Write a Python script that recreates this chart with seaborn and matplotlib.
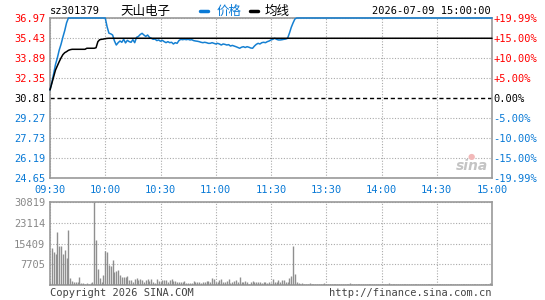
import matplotlib
matplotlib.use("Agg")
import matplotlib.pyplot as plt
import seaborn as sns
import numpy as np
from matplotlib.lines import Line2D

W, H = 545, 300
BLUE = '#0a7ad6'
LINE_BLUE = '#1580d2'
RED = '#ff0000'
GRAY = '#999999'

prev_close = 30.81
price_ticks = [24.65, 26.19, 27.73, 29.27, 30.81, 32.35, 33.89, 35.43, 36.97]
pct_labels = ['-19.99%', '-15.00%', '-10.00%', '-5.00%', '0.00%',
              '+5.00%', '+10.00%', '+15.00%', '+19.99%']
time_labels = ['09:30', '10:00', '10:30', '11:00', '11:30', '13:30', '14:00', '14:30', '15:00']
vol_ticks = [7705, 15409, 23114, 30819]

# minute-by-minute price (09:30 .. 15:00, 241 points)
price_open = [31.43, 32.00, 32.70, 33.40, 33.90, 34.50, 34.95, 35.50, 36.00, 36.60, 36.97]
price_limit_am = [36.97] * 20
price_mid = [36.30, 35.80, 35.75, 35.66, 35.20, 34.89, 35.07, 35.20, 35.10, 35.33,
             35.05, 35.25, 35.15, 35.10, 35.30, 35.07, 35.48, 35.55, 35.70, 35.79,
             35.66, 35.55, 35.66, 35.48, 35.41, 35.33, 35.35, 35.23, 35.28, 35.18,
             35.25, 35.15, 35.07, 35.15, 35.07, 35.10, 34.97, 35.07, 35.02, 35.23,
             35.33, 35.30, 35.33, 35.30, 35.33, 35.28, 35.30, 35.23, 35.20, 35.18,
             35.15, 35.10, 35.07, 35.10, 35.07, 35.02, 35.02, 35.07, 35.02, 34.97,
             35.02, 34.97, 34.89, 34.97, 34.94, 34.89, 34.92, 34.81, 34.86, 34.81,
             34.76, 34.70, 34.64, 34.72, 34.76, 34.70, 34.76, 34.72, 34.66, 34.64,
             34.81, 34.94, 35.02, 34.97, 35.07, 35.10, 35.07, 35.15, 35.20, 35.28,
             35.33, 35.41, 35.33, 35.28, 35.28, 35.30, 35.33, 35.35, 35.41, 35.80,
             36.25, 36.60, 36.90]
price_limit_pm = [36.97] * 107

avg_open = [31.43, 31.94, 32.45, 32.97, 33.30, 33.61, 33.90, 34.15, 34.30, 34.38,
            34.48, 34.53, 34.56, 34.56, 34.56, 34.56, 34.56, 34.56, 34.56, 34.56,
            34.64, 34.64, 34.64, 34.64, 34.64, 34.68, 35.15, 35.30, 35.33, 35.35,
            35.38, 35.40]
avg_rest = [35.41] * 209

vol_am1 = [600, 13600, 12400, 11600, 19800, 14600, 14600, 11600, 13100, 9900,
           20500, 2700, 1600, 1000, 1200, 1200, 3100, 740, 740, 500,
           740, 500, 740, 1200, 30819, 16800, 6100, 2700, 1200, 3800,
           12700, 12400, 7500, 6900, 9400, 4900, 5300, 5700, 3800, 3100]
vol_am2 = [2970, 2970, 3200, 1980, 1980, 990, 2230, 2700, 1980, 2230,
           1980, 1240, 1730, 2230, 1480, 2230, 1240, 740, 2230, 1480,
           1240, 1980, 1730, 1980, 1240, 1980, 2230, 1480, 1480, 1240,
           1240, 1240, 1240, 1480, 740, 740, 740, 740, 1480, 990,
           1240, 1240, 740, 1240, 1240, 1480, 1480, 990, 2470, 2230,
           1240, 990, 1730]
vol_am3 = [2230, 990, 1240, 1480, 2230, 740, 990, 1480, 1980, 1240,
           2970, 1240, 990, 1480, 990, 500, 990, 1480, 990, 1240,
           1240, 990, 740, 990, 1240, 740, 990, 740]
vol_pm1 = [2230, 1240, 1240, 1980, 1240, 1730, 1730, 990, 1240, 2700,
           3460, 14300, 3960, 1240, 740, 500]
vol_pm2 = [600, 450, 500, 450, 600, 400, 450, 500, 450, 450,
           400, 450, 600, 450, 400, 450, 500, 450, 400, 450,
           450, 500, 450, 400, 450, 450, 600, 450, 400, 450,
           500, 450, 450, 400, 450, 500, 450, 450, 400, 450,
           450, 400, 500, 450, 450, 400, 450, 600, 450, 450,
           400, 450, 450, 500, 450, 400, 450, 450, 500, 450,
           450, 400, 450, 450, 500, 450, 400, 450, 450, 450,
           500, 450, 400, 450, 450, 500, 450, 450, 400, 450,
           450, 500, 450, 400, 450, 450, 450, 500, 450, 400,
           450, 450, 500, 450, 400, 450, 450, 450, 500, 450,
           450, 400, 600, 850]

price = price_open + price_limit_am + price_mid + price_limit_pm
avg = avg_open + avg_rest
volume = vol_am1 + vol_am2 + vol_am3 + vol_pm1 + vol_pm2
minutes = np.arange(len(price))
vol_minutes = np.arange(len(volume))

sns.set_style('white')
plt.rcParams['font.family'] = ['DejaVu Sans Mono', 'Noto Sans CJK SC']
plt.rcParams['font.size'] = 7.5

fig = plt.figure(figsize=(W / 100, H / 100), dpi=100)
ax = fig.add_axes([50 / W, 1 - 178 / H, 442 / W, 160 / H])
axv = fig.add_axes([50 / W, 1 - 285 / H, 442 / W, 83 / H])

# grid lines
for t in price_ticks:
    if t == prev_close:
        ax.axhline(t, color='black', lw=1, ls=(0, (3, 2)), zorder=1)
    else:
        ax.axhline(t, color='#aaaaaa', lw=0.8, ls=(0, (1, 1.5)), zorder=1)
for m in range(0, 241, 30):
    ax.axvline(m, color='#aaaaaa', lw=0.8, ls=(0, (1, 1.5)), zorder=1)
    axv.axvline(m, color='#aaaaaa', lw=0.8, ls=(0, (1, 1.5)), zorder=1)
for v in vol_ticks:
    axv.axhline(v, color='#aaaaaa', lw=0.8, ls=(0, (1, 1.5)), zorder=1)

axr = ax.twinx()
axr.set_ylim(price_ticks[0], price_ticks[-1])
axr.set_yticks(price_ticks)
axr.set_yticklabels(pct_labels)
for lbl, t in zip(axr.get_yticklabels(), price_ticks):
    lbl.set_color(RED if t > prev_close else ('black' if t == prev_close else BLUE))
axr.tick_params(axis='y', length=0, pad=1)
for s in axr.spines.values():
    s.set_visible(False)

for a in (ax, axv):
    for s in a.spines.values():
        s.set_color(GRAY)
        s.set_linewidth(1.2)
        s.set_zorder(2)

# draw the lines on the twin (top) axes so they cover the frame
sns.lineplot(x=minutes, y=price, ax=axr, color=LINE_BLUE, lw=1.1, zorder=3)
sns.lineplot(x=minutes, y=avg, ax=axr, color='black', lw=1.1, zorder=4)
for ln in axr.lines:
    ln.set_clip_on(False)
axr.set_xlim(0, 240)
axr.set_ylim(price_ticks[0], price_ticks[-1])
axr.set_ylabel('')

ax.set_xlim(0, 240)
ax.set_ylim(price_ticks[0], price_ticks[-1])
ax.set_xticks(range(0, 241, 30))
ax.set_xticklabels(time_labels, color=BLUE)
ax.set_yticks(price_ticks)
ax.set_yticklabels([f'{t:.2f}' for t in price_ticks])
for lbl, t in zip(ax.get_yticklabels(), price_ticks):
    lbl.set_color(RED if t > prev_close else ('black' if t == prev_close else BLUE))
ax.tick_params(axis='both', length=0)
ax.tick_params(axis='y', pad=3.5)
ax.tick_params(axis='x', pad=5)

axv.vlines(vol_minutes, 0, volume, color='#8f8f8f', lw=1.0, zorder=3)
axv.set_xlim(0, 240)
axv.set_ylim(0, 30819)
axv.set_xticks([])
axv.set_yticks(vol_ticks)
axv.set_yticklabels([str(v) for v in vol_ticks], color='#888888')
axv.tick_params(axis='y', length=0, pad=3.5)

def ftext(x, y, s, **kw):
    fig.text(x / W, 1 - y / H, s, va='center', **kw)

ftext(50, 11, 'sz301379', color='black')
ftext(120, 11, '天山电子', family=['Noto Sans CJK SC'], fontsize=9, color='black')
fig.add_artist(Line2D([200 / W, 208 / W], [1 - 11 / H] * 2, color=BLUE, lw=2.5))
ftext(217, 11, '价格', family=['Noto Sans CJK SC'], fontsize=9, color=BLUE)
fig.add_artist(Line2D([250 / W, 258 / W], [1 - 11 / H] * 2, color='black', lw=2.5))
ftext(265, 11, '均线', family=['Noto Sans CJK SC'], fontsize=9, color='black')
ftext(491, 11, '2026-07-09 15:00:00', ha='right', color='black')
ftext(50, 293, 'Copyright 2026 SINA.COM', color='#444444')
ftext(491, 293, 'http://finance.sina.com.cn', ha='right', color='#444444')
ftext(472, 166, 'sina', ha='center', fontsize=10, style='italic', weight='bold',
      family=['DejaVu Sans'], color='#c4c4c4')
ftext(471, 156, '●', ha='center', fontsize=6, family=['DejaVu Sans'], color='#f2b8b8')

fig.savefig('out.png', dpi=100)
